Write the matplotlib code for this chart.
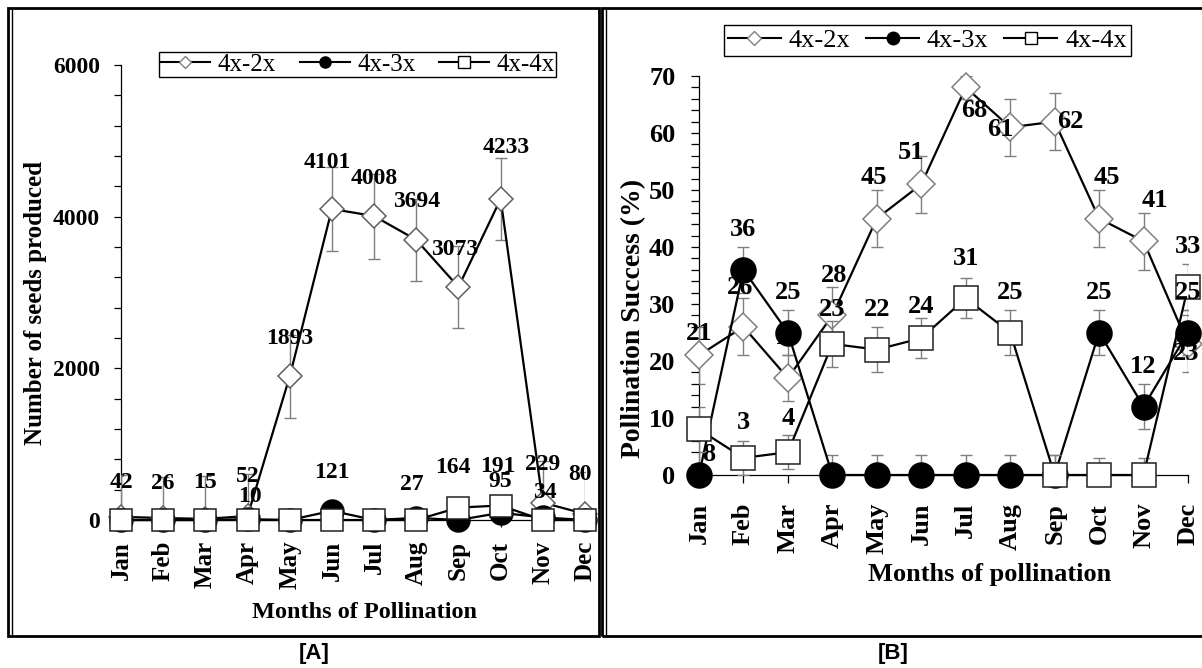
import matplotlib
matplotlib.use('Agg')
import matplotlib.pyplot as plt
from matplotlib.patches import Rectangle
from matplotlib.lines import Line2D
from matplotlib.ticker import MultipleLocator

# ---------------- data ----------------
months = ['Jan', 'Feb', 'Mar', 'Apr', 'May', 'Jun', 'Jul', 'Aug', 'Sep', 'Oct', 'Nov', 'Dec']
series_names = ['4x-2x', '4x-3x', '4x-4x']

# Panel A: number of seeds produced
seeds_2x = [42, 26, 15, 52, 1893, 4101, 4008, 3694, 3073, 4233, 229, 80]
seeds_3x = [0, 0, 0, 10, 0, 121, 0, 27, 0, 95, 34, 0]
seeds_4x = [0, 0, 0, 0, 0, 0, 0, 0, 164, 191, 0, 0]
seeds_2x_err = [550, 540, 560, 550, 548, 550, 560, 545, 540, 540, 550, 550]

# Panel B: pollination success (%)
succ_2x = [21, 26, 17, 28, 45, 51, 68, 61, 62, 45, 41, 23]
succ_3x = [0, 36, 25, 0, 0, 0, 0, 0, 0, 25, 12, 25]
succ_4x = [8, 3, 4, 23, 22, 24, 31, 25, 0, 0, 0, 33]
succ_2x_err = [5, 5, 4, 5, 5, 5, 2, 5, 5, 5, 5, 5]
succ_3x_err = [4, 4, 4, 3.5, 3.5, 3.5, 3.5, 3.5, 3.5, 4, 4, 4]
succ_4x_err = [4, 3, 3, 4, 4, 3.5, 3.5, 4, 3.5, 3, 3, 4]

ylabel_A = 'Number of seeds produced'
xlabel_A = 'Months of Pollination'
ylabel_B = 'Pollination Success (%)'
xlabel_B = 'Months of pollination'

# ---------------- figure ----------------
plt.rcParams['font.family'] = ['Liberation Serif', 'DejaVu Serif']
W, H, DPI = 1202, 668, 100
PT = DPI / 72.0
fig = plt.figure(figsize=(W / DPI, H / DPI), dpi=DPI)
fig.patch.set_facecolor('white')


def ax_rect(l, r, b, t):
    return [l / W, 1 - b / H, (r - l) / W, (b - t) / H]


axA = fig.add_axes(ax_rect(121, 585, 520, 65))
axB = fig.add_axes(ax_rect(699, 1188, 475, 76))

x = list(range(len(months)))
GRAY = '#7f7f7f'


def draw_series(ax, y, err, marker, ms, mfc, mec, z, capsize):
    if err is not None:
        ax.errorbar(x, y, yerr=err, fmt='none', ecolor=GRAY, elinewidth=1.0,
                    capsize=capsize, capthick=1.0, zorder=z - 0.5)
    ax.plot(x, y, color='black', lw=1.6, marker=marker, ms=ms, mfc=mfc, mec=mec,
            mew=1.1, zorder=z, clip_on=False)


def label_series(ax, y, offsets, default, fs):
    for i, v in enumerate(y):
        if v == 0:
            continue
        dx, dy = offsets.get(i, default)
        ax.annotate(str(v), (x[i], v), xytext=(dx / PT, -dy / PT), textcoords='offset points',
                    ha='center', va='center', fontsize=fs, fontweight='bold',
                    annotation_clip=False, zorder=20)


def style_axes(ax, ylim, major, minor, fs_y, fs_x, pad_y, pad_x, tl_y, tl_x):
    ax.set_xlim(0, 11)
    ax.set_ylim(*ylim)
    for s in ['top', 'right']:
        ax.spines[s].set_visible(False)
    for s in ['left', 'bottom']:
        ax.spines[s].set_linewidth(0.9)
        ax.spines[s].set_zorder(1)
    ax.set_yticks(major, labels=[str(t) for t in major], fontweight='bold', fontsize=fs_y)
    ax.yaxis.set_minor_locator(MultipleLocator(minor))
    ax.tick_params(axis='y', which='both', direction='out', length=tl_y, width=0.9, pad=pad_y)
    ax.set_xticks(x, labels=months, rotation=90, fontweight='bold', fontsize=fs_x)
    ax.tick_params(axis='x', which='both', direction='out', length=tl_x, width=0.9, pad=pad_x)
    ax.patch.set_alpha(0)


# ---------- Panel A ----------
style_axes(axA, (0, 6000), [0, 2000, 4000, 6000], 400, 17, 18, 10, 10, 5, 5)
draw_series(axA, seeds_2x, seeds_2x_err, 'D', 11.8, 'white', '#606060', 3, 4.5)
draw_series(axA, seeds_3x, None, 'o', 16.5, 'black', 'black', 4, 4.5)
draw_series(axA, seeds_4x, None, 's', 16.5, 'white', '#202020', 5, 4.5)

offA_2x = {0: (0, -34), 1: (0, -35), 2: (0, -36), 3: (0, -40), 5: (-5, -47),
           8: (-4, -37), 9: (6, -51), 11: (-5, -39)}
offA_3x = {3: (2, -23), 7: (-4, -33), 9: (0, -31), 10: (2, -25)}
offA_4x = {8: (-6, -40), 9: (-3, -39)}
label_series(axA, seeds_2x, offA_2x, (0, -38), 17)
label_series(axA, seeds_3x, offA_3x, (0, -38), 17)
label_series(axA, seeds_4x, offA_4x, (0, -38), 17)

axA.set_ylabel(ylabel_A, fontsize=18, fontweight='bold', va='center')
axA.yaxis.set_label_coords((36 - 121) / 464, (520 - 303) / 455)
axA.set_xlabel(xlabel_A, fontsize=17.5, fontweight='bold', va='center')
axA.xaxis.set_label_coords((365 - 121) / 464, (520 - 613) / 455)

# ---------- Panel B ----------
style_axes(axB, (0, 70), list(range(0, 71, 10)), 2, 19, 19, 11.5, 14, 5.5, 6)
draw_series(axB, succ_2x, succ_2x_err, 'D', 14.3, 'white', GRAY, 3, 4)
draw_series(axB, succ_3x, succ_3x_err, 'o', 18, 'black', 'black', 4, 4)
draw_series(axB, succ_4x, succ_4x_err, 's', 17.3, 'white', '#202020', 5, 4)

offB_2x = {0: (0, -22), 1: (-3, -39), 2: (0, -41), 3: (2, -40), 4: (-3, -41), 5: (-10, -32),
           6: (9, 23), 7: (-10, 2), 8: (16, 0), 9: (8, -41), 10: (11, -41), 11: (-2, 10)}
offB_3x = {}
offB_4x = {0: (10, 25), 1: (0, -35), 2: (0, -34), 3: (0, -34), 5: (0, -32)}
label_series(axB, succ_2x, offB_2x, (0, -40), 19)
label_series(axB, succ_3x, offB_3x, (0, -40), 19)
label_series(axB, succ_4x, offB_4x, (0, -40), 19)

axB.set_ylabel(ylabel_B, fontsize=20, fontweight='bold', va='center')
axB.yaxis.set_label_coords((634 - 699) / 489, (475 - 318) / 399)
axB.set_xlabel(xlabel_B, fontsize=19, fontweight='bold', va='center')
axB.xaxis.set_label_coords((990 - 699) / 489, (475 - 575) / 399)


# ---------- legends ----------
def handles(msD, msO, msS):
    return [Line2D([], [], color='black', lw=1.5, marker='D', ms=msD, mfc='white', mec=GRAY, mew=1),
            Line2D([], [], color='black', lw=1.5, marker='o', ms=msO, mfc='black', mec='black'),
            Line2D([], [], color='black', lw=1.5, marker='s', ms=msS, mfc='white', mec='black', mew=1)]


legA = fig.legend(handles=handles(6.6, 8, 8), labels=series_names, loc='upper left',
                  bbox_to_anchor=(159 / W, 1 - 52 / H), bbox_transform=fig.transFigure,
                  ncol=3, frameon=True, fancybox=False, edgecolor='black', framealpha=1,
                  borderaxespad=0, fontsize=18, handlelength=2.0, handletextpad=0.3,
                  columnspacing=0.95, borderpad=0.05)
legA.get_frame().set_linewidth(1)

legB = fig.legend(handles=handles(7.5, 9, 9), labels=series_names, loc='upper left',
                  bbox_to_anchor=(724 / W, 1 - 25 / H), bbox_transform=fig.transFigure,
                  ncol=3, frameon=True, fancybox=False, edgecolor='black', framealpha=1,
                  borderaxespad=0, fontsize=19, handlelength=2.0, handletextpad=0.3,
                  columnspacing=0.6, borderpad=0.15)
legB.get_frame().set_linewidth(1)


# ---------- frames and panel letters ----------
def frect(l, t, r, b, lw):
    fig.add_artist(Rectangle((l / W, 1 - b / H), (r - l) / W, (b - t) / H,
                             transform=fig.transFigure, fill=False, ec='black', lw=lw, clip_on=False))


def fline(x0, y0, x1, y1, lw):
    fig.add_artist(Line2D([x0 / W, x1 / W], [1 - y0 / H, 1 - y1 / H],
                          transform=fig.transFigure, color='black', lw=lw))


frect(8, 8, 599, 636, 2.0)
fline(12, 10, 12, 634, 1.0)
frect(602, 8, 1206, 636, 2.0)
fline(606, 10, 606, 634, 1.0)

fig.text(314 / W, 1 - 654 / H, '[A]', ha='center', va='center', fontsize=16,
         fontweight='bold', family=['Liberation Sans', 'DejaVu Sans'])
fig.text(893 / W, 1 - 654 / H, '[B]', ha='center', va='center', fontsize=16,
         fontweight='bold', family=['Liberation Sans', 'DejaVu Sans'])

fig.savefig('out.png', dpi=DPI, facecolor='white')
